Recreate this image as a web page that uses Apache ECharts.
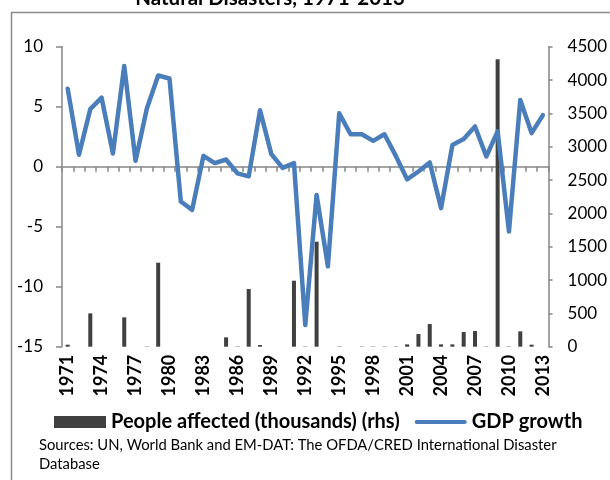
<!DOCTYPE html>
<html>
<head>
<meta charset="utf-8">
<script src="https://cdn.jsdelivr.net/npm/echarts@6/dist/echarts.min.js"></script>
<style>
  html, body { margin: 0; padding: 0; background: #fff; }
  #chart { width: 610px; height: 480px; }
</style>
</head>
<body>
<div id="chart"></div>
<script>
// Years on the category axis
const years = [];
for (let y = 1971; y <= 2013; y++) years.push(String(y));

// Real GDP growth, % (left axis)
const gdpGrowth = [
  6.5, 1.0, 4.8, 5.75, 1.1, 8.4, 0.5, 4.85, 7.6, 7.35,
  -2.9, -3.6, 0.9, 0.3, 0.6, -0.55, -0.8, 4.7, 1.05, -0.1,
  0.3, -13.2, -2.35, -8.3, 4.45, 2.7, 2.7, 2.15, 2.7, 0.9,
  -1.05, -0.4, 0.35, -3.45, 1.8, 2.3, 3.35, 0.85, 2.95, -5.4,
  5.55, 2.8, 4.3
];

// People affected by natural disasters, thousands (right axis)
const peopleAffected = [
  30, 0, 500, 0, 0, 440, 0, 5, 1260, 0,
  0, 0, 0, 0, 140, 5, 865, 25, 0, 0,
  990, 5, 1575, 0, 5, 0, 5, 5, 5, 5,
  35, 190, 340, 35, 35, 220, 235, 5, 4310, 5,
  230, 30, 0
];

const titleText = 'Natural Disasters, 1971-2013';
const sourceText = 'Sources: UN, World Bank and EM-DAT: The OFDA/CRED International Disaster\nDatabase';

const FONT = 'Lato, "Noto Sans", sans-serif';
const AXIS_GREY = '#868686';
const LINE_BLUE = '#4a7ebb';

// Thick line with rounded ends for the GDP legend key
const lineKey = 'path://M2,0 L50,0 A2,2 0 0 1 50,4 L2,4 A2,2 0 0 1 2,0 Z';

const chart = echarts.init(document.getElementById('chart'), null, { renderer: 'canvas' });

chart.setOption({
  animation: false,
  backgroundColor: '#ffffff',
  textStyle: { fontFamily: FONT },
  grid: { left: 62, right: 58, top: 46.7, bottom: 133.3, containLabel: false },
  legend: {
    left: 54,
    top: 412,
    padding: 0,
    itemWidth: 52,
    itemHeight: 12,
    itemGap: 15,
    itemStyle: { borderWidth: 0 },
    textStyle: { fontFamily: FONT, fontSize: 20, fontWeight: 'bold', color: '#000' },
    data: [
      { name: 'People affected (thousands) (rhs)', icon: 'rect' },
      { name: 'GDP growth', icon: lineKey }
    ]
  },
  xAxis: [
    {
      type: 'category',
      data: years,
      boundaryGap: true,
      axisLine: { onZero: true, onZeroAxisIndex: 0, lineStyle: { color: AXIS_GREY, width: 1.5 } },
      axisTick: { show: true, interval: 0, length: 5, lineStyle: { color: AXIS_GREY, width: 1.5 } },
      axisLabel: { show: false },
      splitLine: { show: false }
    },
    {
      type: 'category',
      data: years,
      position: 'bottom',
      boundaryGap: true,
      axisLine: { show: false, onZero: false },
      axisTick: { show: false },
      axisLabel: {
        interval: 2,
        rotate: 90,
        margin: 8,
        fontFamily: FONT,
        fontSize: 18,
        fontWeight: 'bold',
        color: '#000'
      },
      splitLine: { show: false }
    }
  ],
  yAxis: [
    {
      type: 'value',
      min: -15,
      max: 10,
      interval: 5,
      position: 'left',
      axisLine: { show: true, lineStyle: { color: AXIS_GREY, width: 1.5 } },
      axisTick: { show: true, length: 6, lineStyle: { color: AXIS_GREY, width: 1.5 } },
      axisLabel: { margin: 19, fontFamily: FONT, fontSize: 17, color: '#000' },
      splitLine: { show: false }
    },
    {
      type: 'value',
      min: 0,
      max: 4500,
      interval: 500,
      position: 'right',
      axisLine: { show: true, lineStyle: { color: AXIS_GREY, width: 1.5 } },
      axisTick: { show: true, length: 4, lineStyle: { color: AXIS_GREY, width: 1.5 } },
      axisLabel: {
        margin: 19,
        fontFamily: FONT,
        fontSize: 17,
        color: '#000',
        formatter: (v) => String(v)
      },
      splitLine: { show: false }
    }
  ],
  series: [
    {
      name: 'People affected (thousands) (rhs)',
      type: 'bar',
      xAxisIndex: 0,
      yAxisIndex: 1,
      data: peopleAffected,
      barWidth: 4,
      itemStyle: { color: '#404040' }
    },
    {
      name: 'GDP growth',
      type: 'line',
      xAxisIndex: 0,
      yAxisIndex: 0,
      data: gdpGrowth,
      symbol: 'none',
      lineStyle: { color: LINE_BLUE, width: 4.5, cap: 'round', join: 'round' },
      itemStyle: { color: LINE_BLUE }
    }
  ],
  graphic: [
    {
      type: 'rect',
      silent: true,
      shape: { x: 11.5, y: 12.5, width: 800, height: 600 },
      style: { fill: 'none', stroke: '#8c8c8c', lineWidth: 1.5 }
    },
    {
      type: 'text',
      silent: true,
      x: 270,
      y: 9,
      style: {
        text: titleText,
        fill: '#000',
        font: 'bold 20.5px ' + FONT,
        textAlign: 'center',
        textVerticalAlign: 'bottom'
      }
    },
    {
      type: 'text',
      silent: true,
      x: 39,
      y: 436,
      style: {
        text: sourceText,
        fill: '#000',
        font: '14.8px ' + FONT,
        lineHeight: 19,
        textAlign: 'left',
        textVerticalAlign: 'top'
      }
    }
  ]
});
</script>
</body>
</html>
